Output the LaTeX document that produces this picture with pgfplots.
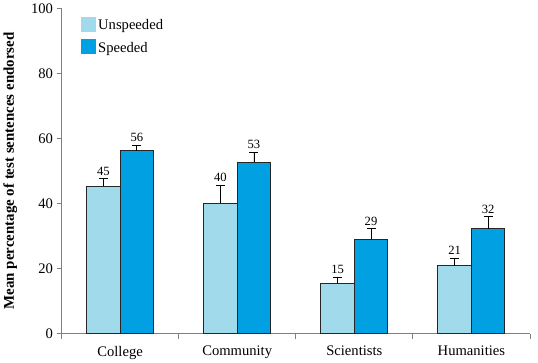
\documentclass[border=0pt]{standalone}
\usepackage{pgfplots}
\pgfplotsset{compat=1.18}
\usepackage{fontspec}
\setmainfont{Liberation Serif}
\definecolor{lightb}{RGB}{160,218,235}
\definecolor{darkb}{RGB}{0,160,227}
\definecolor{axgray}{RGB}{128,128,128}
\begin{document}
\begin{tikzpicture}
\begin{axis}[
  scale only axis,
  width=465bp, height=323bp,
  xmin=-0.5, xmax=3.5,
  ymin=0, ymax=100,
  axis x line*=bottom, axis y line*=left,
  axis line style={axgray, line width=1pt},
  xtick={0,1,2,3},
  xticklabels={College,Community,Scientists,Humanities},
  major x tick style={draw=none},
  minor xtick={-0.5,0.5,1.5,2.5,3.5},
  minor x tick style={axgray, line width=0.8pt},
  ytick={0,20,...,100},
  y tick style={axgray, line width=0.8pt},
  tick align=outside,
  major tick length=5bp, minor tick length=5bp,
  /pgf/number format/assume math mode=true,
  tick label style={font=\fontsize{14.5bp}{16bp}\selectfont},
  xticklabel style={yshift=-4bp},
  ylabel={\textbf{Mean percentage of test sentences endorsed}},
  ylabel style={font=\fontsize{14.8bp}{16bp}\selectfont, yshift=7bp},
  legend style={at={(0.035,0.98)}, anchor=north west, draw=none, fill=none,
    font=\fontsize{14.5bp}{16bp}\selectfont, row sep=6bp},
  legend cell align=left,
  clip=false,
]
\addplot[ybar, bar width=0.286, bar shift=0, fill=lightb, draw=black!85, line width=0.9pt,
  error bars/.cd, y dir=plus, y explicit,
  error bar style={black, line width=0.8pt},
  error mark options={rotate=90, mark size=4.5bp, black, line width=0.8pt},
  /pgfplots/legend image code/.code={\fill[lightb] (0bp,-6bp) rectangle (14bp,8bp);}]
  coordinates {(-0.143,45.3) +- (0,2.4) (0.857,40.0) +- (0,5.6) (1.857,15.4) +- (0,1.9) (2.857,20.8) +- (0,2.4)};
\addlegendentry{Unspeeded}
\addplot[ybar, bar width=0.286, bar shift=0, fill=darkb, draw=black!85, line width=0.9pt,
  error bars/.cd, y dir=plus, y explicit,
  error bar style={black, line width=0.8pt},
  error mark options={rotate=90, mark size=4.5bp, black, line width=0.8pt},
  /pgfplots/legend image code/.code={\fill[darkb] (0bp,-6bp) rectangle (14bp,8bp);}]
  coordinates {(0.143,56.2) +- (0,1.8) (1.143,52.7) +- (0,3.1) (2.143,29.0) +- (0,3.2) (3.143,32.3) +- (0,3.7)};
\addlegendentry{Speeded}
\addplot[draw=none, mark=none, forget plot, nodes near coords, point meta=explicit symbolic,
  nodes near coords style={anchor=south, font=\fontsize{12.5bp}{14bp}\selectfont, inner sep=2bp, yshift=1bp}]
  table[meta=l] {
x y l
-0.143 47.7 45
0.857 45.6 40
1.857 17.3 15
2.857 23.2 21
};
\addplot[draw=none, mark=none, forget plot, nodes near coords, point meta=explicit symbolic,
  nodes near coords style={anchor=south, font=\fontsize{12.5bp}{14bp}\selectfont, inner sep=2bp, yshift=1bp}]
  table[meta=l] {
x y l
0.143 58.0 56
1.143 55.8 53
2.143 32.2 29
3.143 36.0 32
};
\end{axis}
\path (current axis.east) ++(8bp,0);
\end{tikzpicture}
\end{document}
